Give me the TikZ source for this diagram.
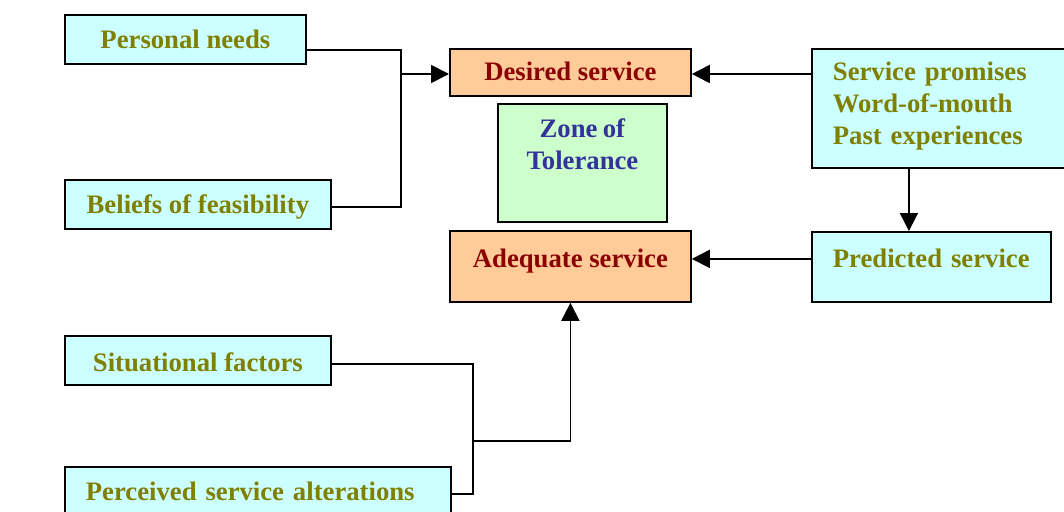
\documentclass[tikz,border=0pt]{standalone}
\usepackage{fontspec}
\setmainfont{Liberation Serif}
\usetikzlibrary{arrows.meta}
\definecolor{cian}{HTML}{CCFFFF}
\definecolor{durazno}{HTML}{FFCC99}
\definecolor{menta}{HTML}{CCFFCC}
\definecolor{oliva}{HTML}{808000}
\definecolor{granate}{HTML}{8B0000}
\definecolor{indigo}{HTML}{333399}

\begin{document}
\begin{tikzpicture}[x=1pt, y=-1pt,
      e/.style={draw, line width=1.8pt, anchor=north west, inner ysep=0pt, inner xsep=4pt,
                font=\fontsize{26.7}{32}\selectfont\bfseries},
      ex/.style={e, fill=cian, text=oliva},
      ds/.style={e, fill=durazno, text=granate},
      ln/.style={line width=1.8pt},
      t/.style={ln, -{Triangle[length=18pt, width=18pt]}}]

    \useasboundingbox (0,0) rectangle (1064,511);
    \clip (0,0) rectangle (1064,511);

    % Expectativas
    \node[ds, minimum width=241pt, text height=32pt, text depth=15pt] (des) at (449,48) {Desired service};
    \node[e, fill=menta, text=indigo, text width=161pt, align=center,
          text height=34pt, text depth=84pt] (zon) at (497,103) {Zone\hspace{0.2em}of\\Tolerance};
    \node[ds, minimum width=241pt, text height=37pt, text depth=34pt] (ade) at (449,230) {Adequate service};

    % Factores de la izquierda
    \node[ex, minimum width=241pt, text height=34pt, text depth=15pt] (pn) at (64,14) {Personal needs};
    \node[ex, minimum width=266pt, text height=34pt, text depth=15pt] (bf) at (64,179) {Beliefs of feasibility};
    \node[ex, minimum width=266pt, text height=36pt, text depth=13pt] (sf) at (64,335) {Situational factors};
    \node[ex, inner xsep=21pt, text width=344pt, align=left,
          text height=34pt, text depth=30pt] (psa) at (64,466) {Perceived service alterations};

    % Factores de la derecha
    \node[ex, inner xsep=21pt, text width=240pt, align=left,
          text height=32pt, text depth=87pt] (spr) at (811,48)
      {Service promises\\Word-of-mouth\\Past experiences};
    \node[ex, inner xsep=21pt, text width=197pt, align=left,
          text height=36pt, text depth=34pt] (pre) at (811,231) {Predicted service};

    \coordinate (jt) at (401,74);
    \coordinate (jb) at (473,441);

    \draw[ln] ([yshift=-10.5pt]pn.east) -| (jt) |- ([yshift=-2.5pt]bf.east);
    \draw[t] (jt) -- (jt -| des.west);
    \draw[t] (spr.west |- jt) -- (jt -| des.east);
    \draw[t] ([xshift=-22.5pt]pre.north |- spr.south) -- ([xshift=-22.5pt]pre.north);
    \draw[t] ([yshift=8pt]pre.west) -- ([yshift=8pt]pre.west -| ade.east);

    \draw[ln] ([yshift=-3.5pt]sf.east) -| (jb) |- ([yshift=5pt]psa.east);
    \draw[t] (jb) -| (ade.south);
  \end{tikzpicture}
\end{document}
